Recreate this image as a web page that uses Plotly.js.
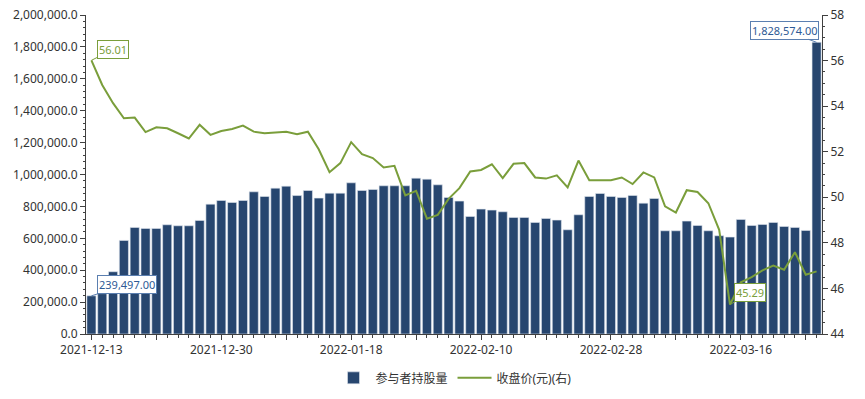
<!DOCTYPE html>
<html>
<head>
<meta charset="utf-8">
<script src="https://cdn.plot.ly/plotly-3.0.1.min.js"></script>
<style>html,body{margin:0;padding:0;background:#fff;}#chart{width:865px;height:399px;}</style>
</head>
<body>
<div id="chart"></div>
<script>
const dates = [
  '2021-12-13','2021-12-14','2021-12-15','2021-12-16','2021-12-17','2021-12-20','2021-12-21','2021-12-22','2021-12-23','2021-12-24',
  '2021-12-28','2021-12-29','2021-12-30','2021-12-31','2022-01-04','2022-01-05','2022-01-06','2022-01-07','2022-01-10','2022-01-11',
  '2022-01-12','2022-01-13','2022-01-14','2022-01-17','2022-01-18','2022-01-19','2022-01-20','2022-01-21','2022-01-24','2022-01-25',
  '2022-01-26','2022-01-27','2022-01-28','2022-02-07','2022-02-08','2022-02-09','2022-02-10','2022-02-11','2022-02-14','2022-02-15',
  '2022-02-16','2022-02-17','2022-02-18','2022-02-21','2022-02-22','2022-02-23','2022-02-24','2022-02-25','2022-02-28','2022-03-01',
  '2022-03-02','2022-03-03','2022-03-04','2022-03-07','2022-03-08','2022-03-09','2022-03-10','2022-03-11','2022-03-14','2022-03-15',
  '2022-03-16','2022-03-17','2022-03-18','2022-03-21','2022-03-22','2022-03-23','2022-03-24','2022-03-25'
];
const holdings = [
  239497,253000,390400,586700,668000,661900,661900,684800,678500,678500,
  712000,814200,837200,824700,837200,891500,862300,914500,927000,868000,
  899900,851900,883200,883200,947900,899900,906200,929200,929200,929200,
  977200,970900,935400,856100,833100,737100,783000,776700,766300,730800,
  730800,699500,724500,714100,653500,747500,862300,881100,862300,856100,
  868600,820500,849800,647200,647200,707800,680700,647200,615900,607600,
  718300,680700,686900,699500,674400,668200,649300,1828574
];
const closePrice = [
  56.01,54.93,54.13,53.47,53.50,52.86,53.07,53.03,52.81,52.58,
  53.18,52.74,52.91,53.00,53.15,52.88,52.81,52.84,52.88,52.77,
  52.88,52.11,51.10,51.50,52.42,51.89,51.72,51.31,51.38,50.08,
  50.28,49.06,49.23,49.93,50.40,51.13,51.20,51.45,50.84,51.47,
  51.50,50.87,50.82,50.96,50.43,51.61,50.75,50.75,50.75,50.87,
  50.58,51.09,50.87,49.60,49.33,50.31,50.23,49.74,48.57,45.29,
  46.27,46.50,46.79,47.00,46.82,47.59,46.60,46.75
];
const seriesNames = ['参与者持股量', '收盘价(元)(右)'];

// major ticks every 6 categories, labels every 12
const tickVals = [];
const tickText = [];
dates.forEach((d, i) => { if (i % 6 === 0) { tickVals.push(d); tickText.push(i % 12 === 0 ? d : ''); } });

const minIdx = closePrice.indexOf(Math.min(...closePrice));
const lastIdx = holdings.length - 1;

const axisColor = '#404040';
const font = {family: 'Noto Sans, Noto Sans CJK SC, sans-serif', size: 12, color: '#333'};
const green = '#7a9e3b';
const blueBorder = '#5b7fb0';

const traces = [
  {
    type: 'bar', x: dates, y: holdings, name: seriesNames[0], yaxis: 'y',
    marker: {color: '#27466f', line: {color: '#dfe6ef', width: 0.6}},
    hoverinfo: 'skip'
  },
  {
    type: 'scatter', mode: 'lines', x: dates, y: closePrice, name: seriesNames[1], yaxis: 'y2',
    line: {color: green, width: 2},
    hoverinfo: 'skip'
  }
];

const layout = {
  width: 865, height: 399,
  margin: {l: 86, r: 43, t: 15, b: 65, autoexpand: false},
  paper_bgcolor: '#fff', plot_bgcolor: '#fff',
  font: font,
  bargap: 0.16,
  showlegend: true,
  legend: {orientation: 'h', x: 0.5, xanchor: 'center', yref: 'container', y: 0.053, yanchor: 'middle',
           font: {family: font.family, size: 12, color: '#333'}, itemwidth: 34},
  xaxis: {
    type: 'category', range: [-0.5, dates.length - 0.5],
    showline: true, linecolor: axisColor, linewidth: 1,
    ticks: 'outside', ticklen: 5, tickcolor: axisColor,
    tickmode: 'array', tickvals: tickVals, ticktext: tickText,
    tickfont: {size: 12, color: '#333'},
    minor: {ticks: 'outside', ticklen: 3, tickcolor: axisColor, dtick: 1, tick0: 0, showgrid: false},
    showgrid: false, zeroline: false, automargin: false
  },
  yaxis: {
    range: [0, 2000000], tickformat: ',.1f', dtick: 200000,
    showline: true, linecolor: axisColor, linewidth: 1,
    ticks: 'outside', ticklen: 5, tickcolor: axisColor,
    minor: {ticks: 'outside', ticklen: 2, tickcolor: axisColor, dtick: 40000, showgrid: false},
    showgrid: false, zeroline: false, automargin: false,
    tickfont: {size: 12, color: '#333'}
  },
  yaxis2: {
    range: [44, 58], dtick: 2, overlaying: 'y', side: 'right',
    showline: true, linecolor: axisColor, linewidth: 1,
    ticks: 'outside', ticklen: 5, tickcolor: axisColor,
    minor: {ticks: 'outside', ticklen: 2, tickcolor: axisColor, dtick: 0.5, showgrid: false},
    showgrid: false, zeroline: false, automargin: false,
    tickfont: {size: 12, color: '#333'}
  },
  annotations: [
    {x: dates[0], y: closePrice[0], yref: 'y2', text: closePrice[0].toFixed(2),
     showarrow: true, arrowhead: 0, arrowwidth: 1, arrowcolor: green, ax: 22, ay: -11,
     font: {size: 11, color: green, family: font.family}, bordercolor: green, borderwidth: 1, borderpad: 1, bgcolor: '#fff'},
    {x: dates[0], y: holdings[0], yref: 'y', text: holdings[0].toLocaleString('en-US', {minimumFractionDigits: 2}),
     showarrow: true, arrowhead: 0, arrowwidth: 1, arrowcolor: blueBorder, ax: 36, ay: -11,
     font: {size: 11, color: '#2e5a95', family: font.family}, bordercolor: blueBorder, borderwidth: 1, borderpad: 1, bgcolor: '#fff'},
    {x: dates[lastIdx], y: holdings[lastIdx], yref: 'y', text: holdings[lastIdx].toLocaleString('en-US', {minimumFractionDigits: 2}),
     showarrow: true, arrowhead: 0, arrowwidth: 1, arrowcolor: blueBorder, ax: -32, ay: -12,
     font: {size: 11, color: '#2e5a95', family: font.family}, bordercolor: blueBorder, borderwidth: 1, borderpad: 1, bgcolor: '#fff'},
    {x: dates[minIdx], y: closePrice[minIdx], yref: 'y2', text: closePrice[minIdx].toFixed(2),
     showarrow: true, arrowhead: 0, arrowwidth: 1, arrowcolor: green, ax: 20, ay: -12,
     font: {size: 11, color: green, family: font.family}, bordercolor: green, borderwidth: 1, borderpad: 1, bgcolor: '#fff'}
  ]
};

Plotly.newPlot('chart', traces, layout, {displayModeBar: false, staticPlot: true});
</script>
</body>
</html>
